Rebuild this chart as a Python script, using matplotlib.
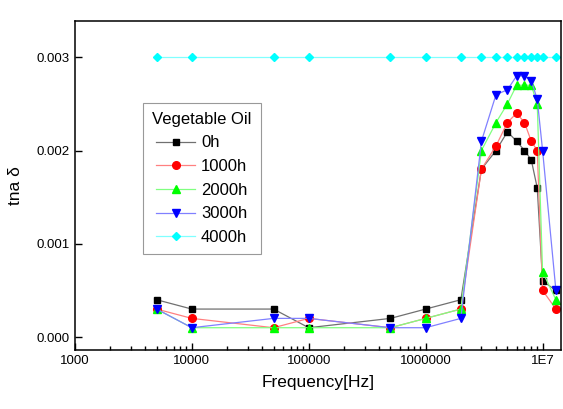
import numpy as np
import matplotlib.pyplot as plt
from matplotlib.ticker import FixedLocator, FixedFormatter, LogLocator, NullFormatter

plt.rcParams['font.family'] = ['Liberation Sans', 'DejaVu Sans']

# data
freq = [5e3, 1e4, 5e4, 1e5, 5e5, 1e6, 2e6, 3e6, 4e6, 5e6, 6e6, 7e6, 8e6, 9e6, 1e7, 1.3e7]
h0 = [0.0004, 0.0003, 0.0003, 0.0001, 0.0002, 0.0003, 0.0004, 0.0018, 0.0020, 0.0022,
      0.0021, 0.0020, 0.0019, 0.0016, 0.0006, 0.0005]
h1000 = [0.0003, 0.0002, 0.0001, 0.0002, 0.0001, 0.0002, 0.0003, 0.0018, 0.00205, 0.0023,
         0.0024, 0.0023, 0.0021, 0.0020, 0.0005, 0.0003]
h2000 = [0.0003, 0.0001, 0.0001, 0.0001, 0.0001, 0.0002, 0.0003, 0.0020, 0.0023, 0.0025,
         0.0027, 0.0027, 0.0027, 0.0025, 0.0007, 0.0004]
h3000 = [0.0003, 0.0001, 0.0002, 0.0002, 0.0001, 0.0001, 0.0002, 0.0021, 0.0026, 0.00265,
         0.0028, 0.0028, 0.00275, 0.00255, 0.0020, 0.0005]
h4000 = [0.003] * 16

series = [("0h", h0, 'black', '#707070', 's', 5),
          ("1000h", h1000, 'red', '#ff8080', 'o', 5.5),
          ("2000h", h2000, '#00ff00', '#80ff80', '^', 5.5),
          ("3000h", h3000, 'blue', '#8080ff', 'v', 5.5),
          ("4000h", h4000, 'cyan', '#80ffff', 'D', 4.5)]

fig = plt.figure(figsize=(5.63, 4.09), dpi=100)
ax = fig.add_axes([0.133, 0.144, 0.863, 0.805])

for name, vals, mc, lc, m, ms in series:
    ax.plot(freq, vals, color=lc, lw=0.9, marker=m, ms=ms,
            mfc=mc, mec=mc, label=name)

ax.set_xscale('log')
ax.set_xlim(1000, 1.43e7)
ax.set_ylim(-0.00014, 0.00339)

ax.xaxis.set_major_locator(FixedLocator([1e3, 1e4, 1e5, 1e6, 1e7]))
ax.xaxis.set_major_formatter(FixedFormatter(['1000', '10000', '100000', '1000000', '1E7']))
ax.xaxis.set_minor_locator(LogLocator(base=10, subs=np.arange(2, 10)))
ax.xaxis.set_minor_formatter(NullFormatter())
ax.set_yticks([0, 0.001, 0.002, 0.003])
ax.set_yticklabels(['0.000', '0.001', '0.002', '0.003'])

ax.tick_params(which='both', direction='in', top=False, right=False, labelsize=9.5, width=1)
ax.tick_params(which='major', length=5)
ax.tick_params(which='minor', length=3)
for s in ax.spines.values():
    s.set_linewidth(1.1)

ax.set_xlabel("Frequency[Hz]", fontsize=12.5, labelpad=6)
ax.set_ylabel("tna δ", fontsize=12.5, labelpad=10)

leg = ax.legend(title="Vegetable Oil", loc='upper left', bbox_to_anchor=(0.14, 0.752),
                fontsize=12, title_fontsize=12, fancybox=False, framealpha=1,
                edgecolor='#999999', handlelength=2.35, handletextpad=0.35,
                labelspacing=0.52, borderpad=0.55, borderaxespad=0)
leg.get_frame().set_linewidth(0.8)

plt.savefig("out.png", dpi=100)
